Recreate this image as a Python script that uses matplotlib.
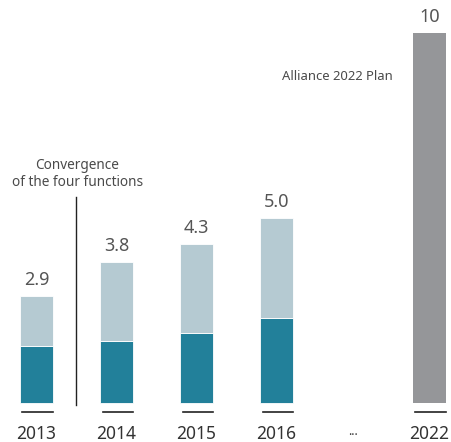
import numpy as np
import matplotlib.pyplot as plt

plt.rcParams['font.family'] = ['Noto Sans', 'DejaVu Sans']

years = ['2013', '2014', '2015', '2016', '2022']
xpos = [0, 1, 2, 3, 4.91]
dark = [1.55, 1.68, 1.9, 2.3]
light = [1.35, 2.12, 2.4, 2.7]
totals = ['2.9', '3.8', '4.3', '5.0', '10']
plan = 10

c_dark = '#22809a'
c_light = '#b5cad2'
c_grey = '#959699'
c_text = '#4a4a4a'

fig = plt.figure(figsize=(4.51, 4.42), dpi=100)
ax = fig.add_axes([0, 0, 1, 1])
w = 0.41

ax.bar(xpos[:4], dark, width=w, color=c_dark, edgecolor='white', linewidth=0.6)
ax.bar(xpos[:4], light, width=w, bottom=dark, color=c_light, edgecolor='white', linewidth=0.6)
ax.bar(xpos[4], plan, width=w, color=c_grey)

tops = [d + l for d, l in zip(dark, light)] + [plan]
for x, t, lab in zip(xpos, tops, totals):
    ax.text(x, t + 0.43, lab, ha='center', va='center', fontsize=13, color='#555555')

# short lines under bars + year labels
for x, y in zip(xpos, years):
    ax.plot([x - w / 2 + 0.03, x + w / 2], [-0.24, -0.24], color='#222222', lw=1.2)
    ax.text(x, -0.84, y, ha='center', va='center', fontsize=12.5, color='#333333')
ax.text(3.95, -0.78, '...', ha='center', va='center', fontsize=9, color='#333333')

# convergence marker
ax.plot([0.494, 0.494], [-0.05, 5.57], color='#222222', lw=1.0)
ax.text(0.51, 6.43, 'Convergence', ha='center', va='center', fontsize=9.8, color=c_text)
ax.text(0.51, 5.95, 'of the four functions', ha='center', va='center', fontsize=9.8, color=c_text)

ax.text(4.456, 8.81, 'Alliance 2022 Plan', ha='right', va='center', fontsize=9.4, color=c_text)

ax.set_xlim(-0.456, 5.18)
ax.set_ylim(-1.054, 10.89)
ax.axis('off')

plt.savefig('out.png', dpi=100)
